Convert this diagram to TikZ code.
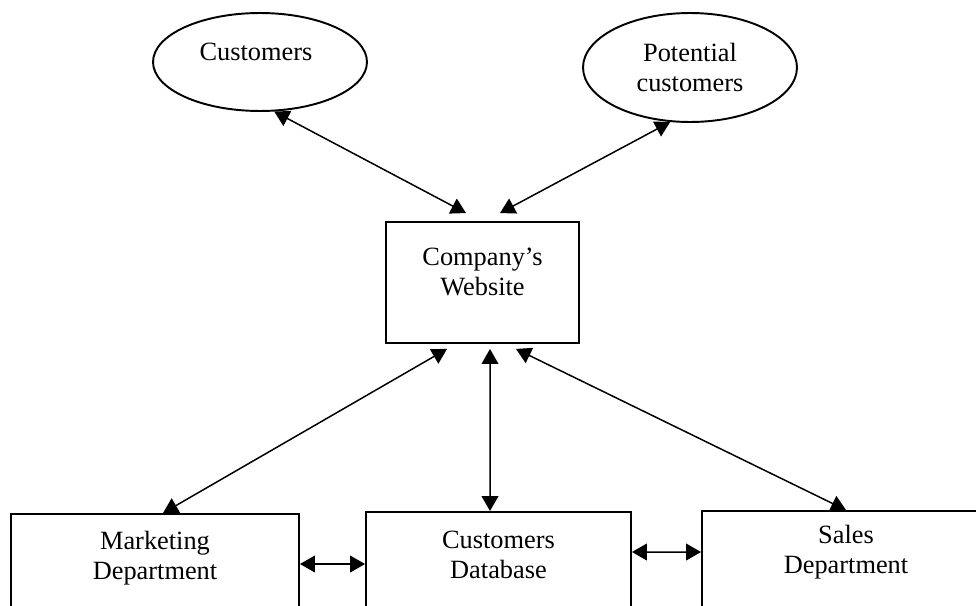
\documentclass[tikz,border=0pt]{standalone}
\usepackage{fontspec}
\setmainfont{Liberation Serif}
\usetikzlibrary{shapes.geometric}
\usetikzlibrary{arrows.meta}
\usetikzlibrary{calc}

\begin{document}
\begin{tikzpicture}[x=0.02cm,y=-0.02cm,
		box/.style={draw,line width=1.1pt,inner sep=0pt},
		oval/.style={draw,ellipse,line width=1.1pt,inner sep=0pt},
		lbl/.style={align=center,inner sep=0pt,font=\fontsize{15}{17}\selectfont},
		link/.style={{Triangle[length=8.5pt,width=9.5pt]}-{Triangle[length=8.5pt,width=9.5pt]},line width=0.85pt}]
	\clip (0,0) rectangle (976,605);
	% top: the two groups of people
	\node[oval,minimum width=4.28cm,minimum height=1.96cm] (cust) at (260,62) {};
	\node[lbl] (custtxt) at (256,52) {Customers};
	\node[oval,minimum width=4.28cm,minimum height=2.18cm] (pot) at (690,67.5) {};
	\node[lbl] (pottxt) at (690,67.5) {Potential\\customers};
	% middle
	\node[box,minimum width=3.86cm,minimum height=2.42cm] (web) at (482.5,282.5) {};
	\node[lbl] (webtxt) at (482.5,272) {Company's\\Website};
	% bottom row
	\node[box,minimum width=5.76cm,minimum height=2.72cm] (mkt) at (155,582) {};
	\node[lbl] (mkttxt) at (155,558) {Marketing\\Department};
	\node[box,minimum width=5.3cm,minimum height=2.76cm] (db) at (498.5,581) {};
	\node[lbl] (dbtxt) at (498.5,555) {Customers\\Database};
	\node[box,minimum width=5.76cm,minimum height=2.78cm] (sales) at (846,580.5) {};
	\node[lbl] (salestxt) at (846,552.5) {Sales\\Department};
	% connectors
	\draw[link] (cust.-74) -- ([xshift=-0.33cm,yshift=0.16cm]web.north);
	\draw[link] (pot.250) -- ([xshift=0.35cm,yshift=0.16cm]web.north);
	\draw[link] ([xshift=-0.71cm,yshift=-0.1cm]web.south) -- ([xshift=0.16cm]mkt.north);
	\draw[link] ([xshift=0.15cm,yshift=-0.1cm]web.south) -- ([xshift=-0.17cm]db.north);
	\draw[link] ([xshift=0.67cm,yshift=-0.1cm]web.south) -- (sales.north);
	\draw[link] ([yshift=0.36cm]mkt.east) -- ([yshift=0.34cm]db.west);
	\draw[link] ([yshift=0.58cm]db.east) -- ([yshift=0.57cm]sales.west);
\end{tikzpicture}
\end{document}
